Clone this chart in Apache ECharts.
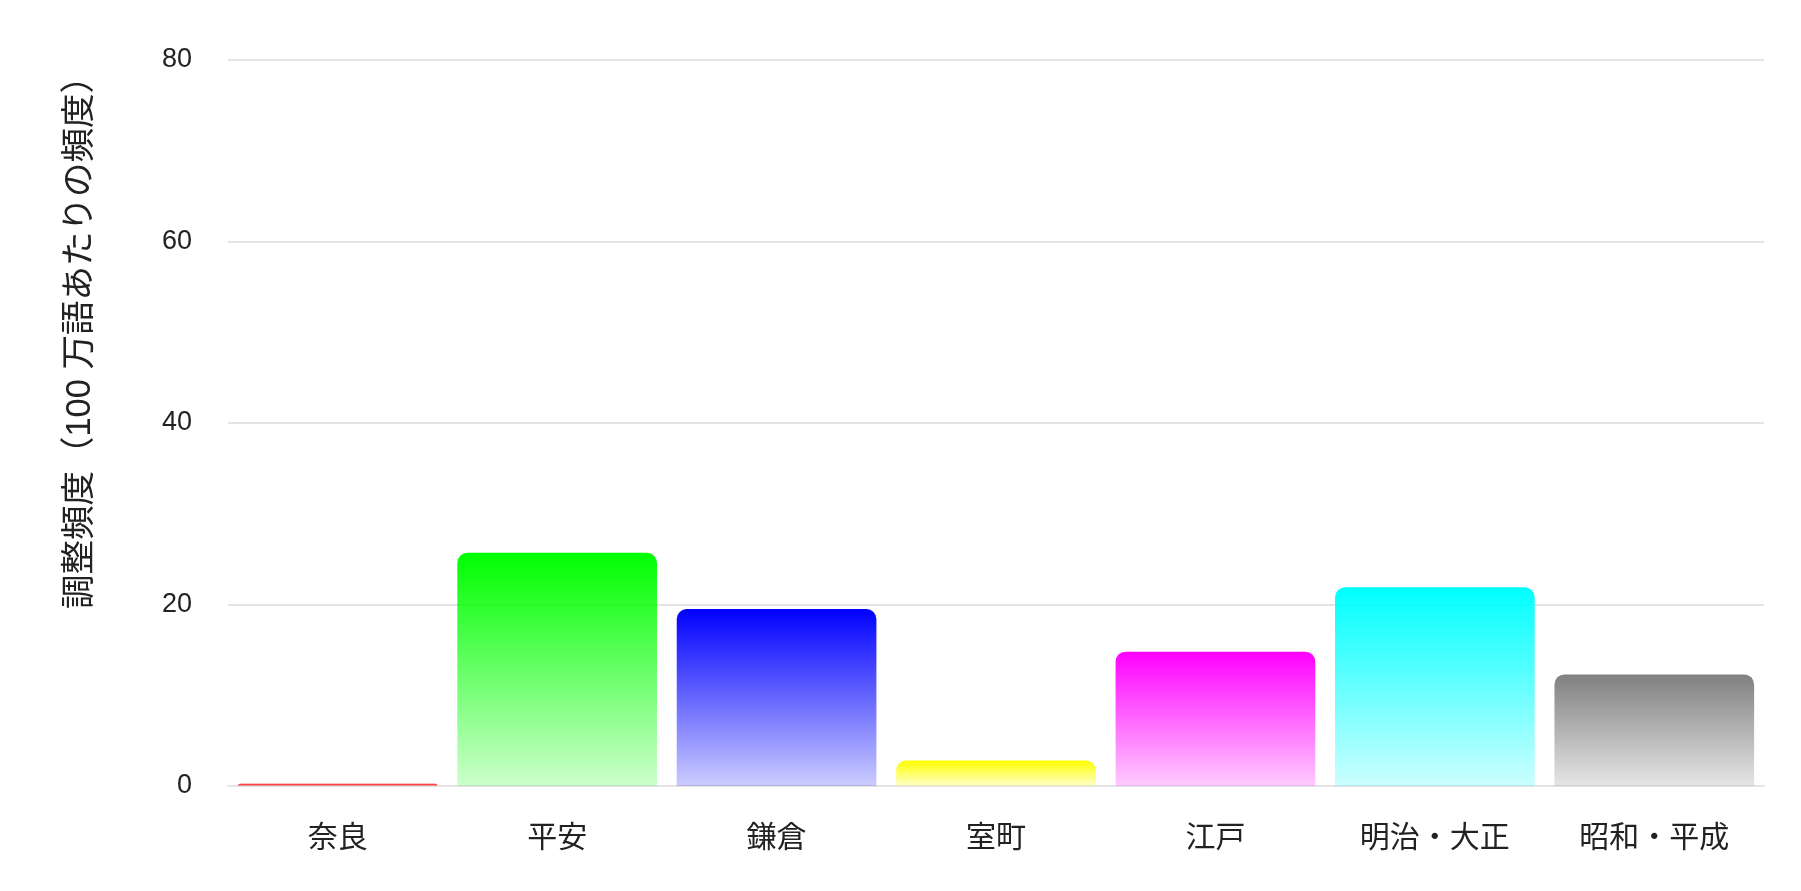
<!DOCTYPE html>
<html>
<head>
<meta charset="utf-8">
<script src="https://cdn.jsdelivr.net/npm/echarts@6/dist/echarts.min.js"></script>
<style>
html,body{margin:0;padding:0;background:#fff;}
#chart{width:1801px;height:891px;}
</style>
</head>
<body>
<div id="chart"></div>
<script>
const categories = ['奈良', '平安', '鎌倉', '室町', '江戸', '明治・大正', '昭和・平成'];
const values = [0.25, 25.7, 19.5, 2.8, 14.8, 21.9, 12.3];
const barColors = ['255,0,0', '0,255,0', '0,0,255', '255,255,0', '255,0,255', '0,255,255', '128,128,128'];
const yTicks = { min: 0, max: 80, interval: 20 };
const yTitle = '調整頻度（100 万語あたりの頻度）';

const fontFamily = 'Liberation Sans, "Noto Sans CJK JP", sans-serif';
const chart = echarts.init(document.getElementById('chart'));
chart.setOption({
  animation: false,
  grid: { left: 228, right: 37, top: 60, bottom: 105 },
  xAxis: {
    type: 'category',
    data: categories,
    axisLine: { show: true, lineStyle: { color: '#e4e4e4', width: 2 } },
    axisTick: { show: false },
    axisLabel: { color: '#222', fontSize: 30, margin: 38, fontFamily: fontFamily }
  },
  yAxis: {
    type: 'value',
    min: yTicks.min, max: yTicks.max, interval: yTicks.interval,
    axisLine: { show: false },
    axisTick: { show: false },
    splitLine: { lineStyle: { color: '#e4e4e4', width: 2 } },
    axisLabel: { color: '#222', fontSize: 27, margin: 36, fontFamily: fontFamily }
  },
  graphic: [{
    type: 'text',
    x: 80, y: 334,
    rotation: Math.PI / 2,
    style: {
      text: yTitle,
      fill: '#222',
      font: '34.5px ' + fontFamily,
      align: 'center',
      verticalAlign: 'middle'
    }
  }],
  series: [{
    type: 'bar',
    barCategoryGap: '9%',
    data: values.map((v, i) => ({
      value: v,
      itemStyle: {
        borderRadius: [10, 10, 0, 0],
        color: {
          type: 'linear', x: 0, y: 0, x2: 0, y2: 1,
          colorStops: [
            { offset: 0, color: 'rgba(' + barColors[i] + ',1)' },
            { offset: 1, color: 'rgba(' + barColors[i] + ',0.2)' }
          ]
        }
      }
    }))
  }]
});
</script>
</body>
</html>
